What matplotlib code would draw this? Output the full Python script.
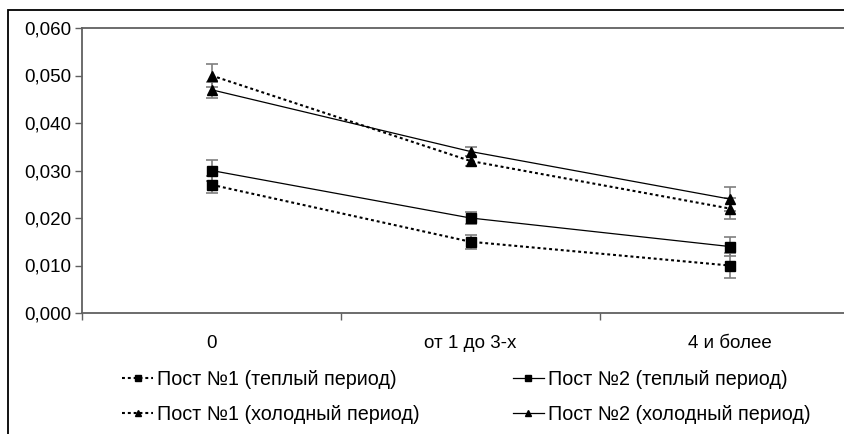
import matplotlib.pyplot as plt
from matplotlib.lines import Line2D
from matplotlib.patches import Rectangle
import numpy as np

plt.rcParams["font.family"] = ["Liberation Sans", "DejaVu Sans"]

# -------------------------
# Данные
# -------------------------
categories = ["0", "от 1 до 3-х", "4 и более"]

post1_warm = [0.027, 0.015, 0.010]
post2_warm = [0.030, 0.020, 0.014]
post1_cold = [0.050, 0.032, 0.022]
post2_cold = [0.047, 0.034, 0.024]

post1_warm_err = [0.0018, 0.0015, 0.0027]
post2_warm_err = [0.0022, 0.0012, 0.0020]
post1_cold_err = [0.0024, 0.0010, 0.0022]
post2_cold_err = [0.0017, 0.0009, 0.0025]

labels = [
    "Пост №1 (теплый период)",
    "Пост №2 (теплый период)",
    "Пост №1 (холодный период)",
    "Пост №2 (холодный период)",
]

yticks = [0.0, 0.01, 0.02, 0.03, 0.04, 0.05, 0.06]

# -------------------------
# Стиль
# -------------------------
LINE_COLOR = "#000000"
ERR_COLOR = "#7f7f7f"
AXIS_COLOR = "#606060"
FONT_SIZE = 13.5
LEGEND_SIZE = 14.2
DOTTED = (0, (1.4, 1.4))

series = [
    (post1_warm, post1_warm_err, DOTTED, "s", 1.5),
    (post2_warm, post2_warm_err, "-", "s", 0.9),
    (post1_cold, post1_cold_err, DOTTED, "^", 1.5),
    (post2_cold, post2_cold_err, "-", "^", 0.9),
]

fig = plt.figure(figsize=(8.45, 4.34), dpi=100)
fig.patch.set_facecolor("white")

# рамка области диаграммы (обрезана справа и снизу)
fig.patches.append(Rectangle((8 / 845, -0.1), 1.2, (434 - 10) / 434 + 0.1,
                             transform=fig.transFigure, fill=False,
                             edgecolor="black", linewidth=1.3))

ax = fig.add_axes([82 / 845, (434 - 313) / 434, 777 / 845, 285 / 434])

x = np.arange(len(categories))

handles = []
for (vals, errs, ls, mk, lw), lab in zip(series, labels):
    ax.errorbar(x, vals, yerr=errs, fmt="none", ecolor=ERR_COLOR,
                elinewidth=1.2, capsize=4.5, capthick=1.2, zorder=2)
    ax.plot(x, vals, linestyle=ls, color=LINE_COLOR, linewidth=lw,
            marker=mk, markersize=6.5 if mk == "s" else 7.5,
            markerfacecolor="black", markeredgecolor="black", zorder=3)
    handles.append(Line2D([], [], linestyle=ls, color=LINE_COLOR, linewidth=lw,
                          marker=mk, markersize=4.5,
                          markerfacecolor="black", markeredgecolor="black"))

# оси
ax.set_xlim(-0.5, 2.5)
ax.set_ylim(0, 0.06)
ax.set_yticks(yticks)
ax.set_yticklabels([f"{v:.3f}".replace(".", ",") for v in yticks],
                   fontsize=FONT_SIZE)
ax.set_xticks([-0.5, 0.5, 1.5])
ax.set_xticklabels([])
ax.set_xticks(x, minor=True)
ax.set_xticklabels(categories, minor=True, fontsize=FONT_SIZE)
ax.tick_params(axis="x", which="minor", length=0, pad=16)
ax.tick_params(axis="x", which="major", length=5, color=AXIS_COLOR, width=1)
ax.tick_params(axis="y", length=5, color=AXIS_COLOR, width=1, pad=3)

for name in ["left", "bottom", "top"]:
    ax.spines[name].set_color(AXIS_COLOR)
    ax.spines[name].set_linewidth(1.3)
ax.spines["right"].set_visible(False)

# порядок для заполнения по строкам
order = [0, 2, 1, 3]
fig.legend([handles[i] for i in order], [labels[i] for i in order],
           loc="upper left", bbox_to_anchor=(104 / 845, 1 - 352 / 434),
           ncol=2, frameon=False, fontsize=LEGEND_SIZE, handlelength=1.6,
           handletextpad=0.2, columnspacing=4.7, labelspacing=0.8)

plt.savefig("out.png", dpi=100)
plt.close()
